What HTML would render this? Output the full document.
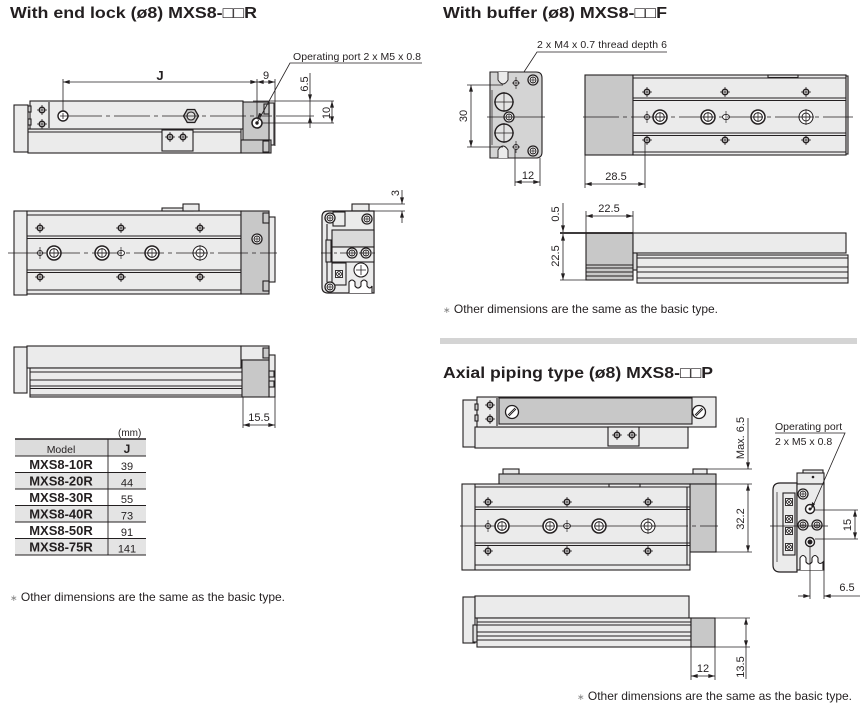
<!DOCTYPE html>
<html><head><meta charset="utf-8"><style>
html,body{margin:0;padding:0;background:#fff;}
svg{display:block;}
text{font-family:"Liberation Sans","DejaVu Sans",Arial,sans-serif;fill:#231f20;}
.t{font-weight:bold;font-size:16px;}
.d{font-size:11px;}
.n{font-size:12px;}
</style></head><body>
<svg width="864" height="708" viewBox="0 0 864 708" xmlns="http://www.w3.org/2000/svg">
<defs>
<marker id="ar" viewBox="0 0 10 6" refX="10" refY="3" markerWidth="7" markerHeight="4" markerUnits="userSpaceOnUse" orient="auto-start-reverse"><path d="M0,0L10,3L0,6z" fill="#231f20"/></marker>
<g id="s" stroke="#231f20"><circle r="2.8" fill="#fff" stroke-width="1.4"/><path d="M-5,0H5M0,-5V5" stroke-width="0.8"/></g>
<g id="h" stroke="#231f20"><circle r="2.5" fill="#fff" stroke-width="0.9"/><path d="M-4,0H4M0,-6V6" stroke-width="0.7"/></g>
<g id="cb" stroke="#231f20"><circle r="7" fill="#fff" stroke-width="1.5"/><circle r="4.3" fill="none" stroke-width="1"/><path d="M-5,0H5M0,-5V5" stroke-width="0.7"/></g>
<g id="ct" stroke="#231f20"><circle r="7" fill="#fff" stroke-width="1"/><circle r="4" fill="none" stroke-width="0.9"/><path d="M-8,0H8M0,-8V8" stroke-width="0.7"/></g>
<g id="ov" stroke="#231f20"><ellipse rx="3.5" ry="2.6" fill="#fff" stroke-width="0.9"/><path d="M0,-6V6" stroke-width="0.7"/></g>
<g id="sm" stroke="#231f20"><circle r="5" fill="#fff" stroke-width="1.3"/><circle r="3" fill="none" stroke-width="0.9"/><path d="M-3,0H3M0,-3V3" stroke-width="0.7"/></g>
<g id="x" stroke="#231f20"><rect x="-3.5" y="-3.5" width="7" height="7" fill="#fff" stroke-width="0.9"/><circle r="2.5" fill="none" stroke-width="0.8"/><path d="M-1.7,-1.7L1.7,1.7M-1.7,1.7L1.7,-1.7" stroke-width="0.7"/></g>
<g id="sl" stroke="#231f20"><circle r="6.5" fill="#fff" stroke-width="1.3"/><path d="M-4,3L3,-4M-3,4L4,-3" stroke-width="0.9"/></g>
<g id="bg" stroke="#231f20"><circle r="9" fill="#e4e4e4" stroke-width="1.4"/><path d="M-10,0H10M0,-10V10" stroke-width="0.7"/></g>
</defs>

<!-- Titles -->
<text class="t" x="10" y="18" textLength="247" lengthAdjust="spacingAndGlyphs">With end lock (ø8) MXS8-□□R</text>
<text class="t" x="443" y="18" textLength="224" lengthAdjust="spacingAndGlyphs">With buffer (ø8) MXS8-□□F</text>
<text class="t" x="443" y="378" textLength="270" lengthAdjust="spacingAndGlyphs">Axial piping type (ø8) MXS8-□□P</text>
<rect x="440" y="338" width="417" height="6" fill="#d4d4d4"/>

<!-- ============ SECTION 1: END LOCK ============ -->
<g stroke="#231f20" stroke-width="1.1">
<rect x="14" y="105" width="14" height="47" fill="#ebebeb"/>
<rect x="28" y="129" width="213" height="24" fill="#ebebeb"/>
<line x1="28" y1="132" x2="241" y2="132"/>
<rect x="30" y="101" width="213" height="28" fill="#ebebeb"/>
<line x1="49" y1="102" x2="49" y2="128"/>
<rect x="28" y="106" width="3" height="6" fill="#ccc"/>
<rect x="28" y="119" width="3" height="6" fill="#ccc"/>
<rect x="269" y="103" width="5" height="42" fill="#ebebeb"/>
<rect x="243" y="102" width="26" height="38" fill="#c8c8c8"/>
<rect x="264" y="104" width="5" height="10" fill="#c8c8c8"/>
<rect x="241" y="140" width="30" height="13" fill="#c8c8c8"/>
<rect x="263" y="141" width="6" height="11" fill="#c8c8c8"/>
<rect x="162" y="130" width="31" height="21" fill="#ebebeb"/>
<polygon points="198.5,116 194.75,122.5 187.25,122.5 183.5,116 187.25,109.5 194.75,109.5" fill="#c8c8c8" stroke-width="1.3"/>
<circle cx="191" cy="116" r="4" fill="#e0e0e0"/>
</g>
<use href="#s" x="42" y="110"/><use href="#s" x="42" y="124"/>
<use href="#s" x="170" y="137"/><use href="#s" x="183" y="137"/>
<g stroke="#231f20"><circle cx="63" cy="116" r="5" fill="#fff" stroke-width="1.4"/><path d="M60,116H66M63,113V119" stroke-width="0.8"/>
<circle cx="257" cy="123" r="5" fill="#fff" stroke-width="1.5"/><circle cx="257" cy="123" r="1.2" fill="#231f20"/></g>
<line x1="66" y1="116" x2="272" y2="116" stroke="#231f20" stroke-width="0.75" stroke-dasharray="36 4 4 4"/>
<g stroke="#231f20" stroke-width="0.8" fill="none">
<line x1="63" y1="79" x2="63" y2="111"/>
<line x1="257" y1="79" x2="257" y2="118"/>
<line x1="275" y1="79" x2="275" y2="146"/>
<line x1="63" y1="82" x2="257" y2="82" marker-start="url(#ar)" marker-end="url(#ar)"/>
<line x1="257" y1="82" x2="275" y2="82" marker-start="url(#ar)" marker-end="url(#ar)"/>
<polyline points="257,123 290,63 422,63"/>
<line x1="253" y1="101" x2="334" y2="101"/>
<line x1="276" y1="116" x2="314" y2="116"/>
<line x1="262" y1="123" x2="334" y2="123"/>
<line x1="310" y1="73" x2="310" y2="101" marker-end="url(#ar)"/>
<line x1="310" y1="128" x2="310" y2="116" marker-end="url(#ar)"/>
<line x1="310" y1="101" x2="310" y2="116"/>
<line x1="332" y1="101" x2="332" y2="123" marker-start="url(#ar)" marker-end="url(#ar)"/>
</g>
<path d="M262,114L257,120L259,113z" fill="#231f20"/>
<text x="160" y="80" text-anchor="middle" style="font-weight:bold;font-size:13px">J</text>
<text class="d" x="266" y="79" text-anchor="middle">9</text>
<text x="293" y="60" style="font-size:10.5px" textLength="128">Operating port 2 x M5 x 0.8</text>
<text class="d" transform="translate(308,84) rotate(-90)" text-anchor="middle">6.5</text>
<text class="d" transform="translate(330,113) rotate(-90)" text-anchor="middle">10</text>

<!-- front view -->
<g stroke="#231f20" stroke-width="1.1">
<rect x="269" y="217" width="6" height="65" fill="#ebebeb"/>
<rect x="14" y="211" width="13" height="84" fill="#ebebeb"/>
<rect x="27" y="211" width="214" height="83" fill="#ebebeb"/>
<line x1="27" y1="215" x2="241" y2="215"/>
<line x1="27" y1="236" x2="241" y2="236"/><line x1="27" y1="238.5" x2="241" y2="238.5"/>
<line x1="27" y1="270" x2="241" y2="270"/><line x1="27" y1="272.5" x2="241" y2="272.5"/>
<line x1="27" y1="290" x2="241" y2="290"/>
<rect x="162" y="208" width="31" height="3" fill="#ebebeb"/>
<rect x="183" y="204" width="16" height="7" fill="#ebebeb"/>
<rect x="241" y="211" width="28" height="83" fill="#c8c8c8"/>
<rect x="263" y="213" width="6" height="10" fill="#c8c8c8"/>
<rect x="263" y="281" width="6" height="10" fill="#c8c8c8"/>
</g>
<use href="#sm" x="257" y="239"/>
<use href="#s" x="40" y="228"/><use href="#s" x="121" y="228"/><use href="#s" x="200" y="228"/>
<use href="#s" x="40" y="277"/><use href="#s" x="121" y="277"/><use href="#s" x="200" y="277"/>
<use href="#h" x="40" y="253"/><use href="#cb" x="54" y="253"/><use href="#cb" x="102" y="253"/>
<use href="#ov" x="121" y="253"/><use href="#cb" x="152" y="253"/><use href="#ct" x="200" y="253"/>
<line x1="8" y1="253" x2="277" y2="253" stroke="#231f20" stroke-width="0.75" stroke-dasharray="30 4 4 4"/>

<!-- side view -->
<g stroke="#231f20" stroke-width="1.1">
<rect x="352" y="204" width="17" height="7" fill="#ebebeb"/>
<path d="M328,211H374V293H328Q322,293 322,287V217Q322,211 328,211z" fill="#ebebeb" stroke-width="1.2"/>
<path d="M327,224V282" fill="none"/>
<rect x="326" y="240" width="5" height="22" fill="#ddd"/>
<rect x="333" y="212" width="12" height="14" fill="#ebebeb"/>
<rect x="332" y="230" width="42" height="17" fill="#dadada"/>
<rect x="332" y="247" width="42" height="15" fill="#ebebeb"/>
<rect x="332" y="263" width="14" height="22" fill="#ebebeb"/>
<path d="M349,293V282Q352,278 355,282V286Q358,290 361,286V282Q364,278 367,282V286Q370,290 372,286V293" fill="#fff"/>
</g>
<use href="#sm" x="330" y="218"/><use href="#sm" x="367" y="219"/><use href="#sm" x="330" y="287"/>
<use href="#sm" x="352" y="253"/><use href="#sm" x="366" y="253"/>
<g stroke="#231f20"><circle cx="361" cy="270" r="7" fill="#fff" stroke-width="1.1"/><path d="M356,270H366M361,265V275" stroke-width="0.8"/></g>
<use href="#x" x="339" y="274"/>
<line x1="321" y1="253" x2="376" y2="253" stroke="#231f20" stroke-width="0.75" stroke-dasharray="10 3 3 3"/>
<g stroke="#231f20" stroke-width="0.8">
<line x1="369" y1="204" x2="405" y2="204"/><line x1="369" y1="211" x2="405" y2="211"/>
<line x1="402" y1="190" x2="402" y2="204" marker-end="url(#ar)"/>
<line x1="402" y1="223" x2="402" y2="211" marker-end="url(#ar)"/>
</g>
<text class="d" transform="translate(399,193) rotate(-90)" text-anchor="middle">3</text>

<!-- bottom side view -->
<g stroke="#231f20" stroke-width="1.1">
<rect x="269" y="355" width="6" height="42" fill="#ebebeb"/>
<rect x="14" y="347" width="13" height="46" fill="#ebebeb"/>
<rect x="27" y="346" width="214" height="22" fill="#ebebeb"/>
<rect x="30" y="368" width="213" height="29" fill="#ebebeb"/>
<line x1="30" y1="372" x2="243" y2="372"/><line x1="30" y1="380" x2="243" y2="380"/>
<line x1="30" y1="386" x2="243" y2="386"/><line x1="30" y1="388.5" x2="243" y2="388.5"/>
<line x1="30" y1="395" x2="243" y2="395"/>
<rect x="241" y="346" width="28" height="14" fill="#ebebeb"/>
<rect x="242" y="360" width="27" height="37" fill="#c8c8c8"/>
<rect x="263" y="348" width="6" height="10" fill="#c8c8c8"/>
<rect x="269" y="371" width="5" height="6" fill="#ddd"/>
<rect x="269" y="381" width="5" height="6" fill="#ddd"/>
</g>
<g stroke="#231f20" stroke-width="0.8">
<line x1="243" y1="397" x2="243" y2="428"/><line x1="275" y1="397" x2="275" y2="428"/>
<line x1="243" y1="425" x2="275" y2="425" marker-start="url(#ar)" marker-end="url(#ar)"/>
</g>
<text class="d" x="259" y="421" text-anchor="middle">15.5</text>

<!-- table -->
<text x="118" y="436" style="font-size:10px">(mm)</text>
<rect x="15" y="439" width="131" height="17" fill="#dcdcdc"/>
<rect x="15" y="472.5" width="131" height="16.5" fill="#e4e4e4"/>
<rect x="15" y="505.5" width="131" height="16.5" fill="#e4e4e4"/>
<rect x="15" y="538.5" width="131" height="16.5" fill="#e4e4e4"/>
<g stroke="#231f20" stroke-width="0.9">
<line x1="15" y1="439" x2="146" y2="439" stroke-width="1.5"/>
<line x1="15" y1="456" x2="146" y2="456"/>
<line x1="15" y1="472.5" x2="146" y2="472.5"/>
<line x1="15" y1="489" x2="146" y2="489"/>
<line x1="15" y1="505.5" x2="146" y2="505.5"/>
<line x1="15" y1="522" x2="146" y2="522"/>
<line x1="15" y1="538.5" x2="146" y2="538.5"/>
<line x1="15" y1="555" x2="146" y2="555"/>
<line x1="108" y1="439" x2="108" y2="555"/>
</g>
<text x="61" y="453" text-anchor="middle" style="font-size:10.5px">Model</text>
<text x="127" y="453" text-anchor="middle" style="font-size:12px;font-weight:bold">J</text>
<g style="font-size:13px;font-weight:bold" text-anchor="middle">
<text x="61" y="469">MXS8-10R</text>
<text x="61" y="485.5">MXS8-20R</text>
<text x="61" y="502">MXS8-30R</text>
<text x="61" y="518.5">MXS8-40R</text>
<text x="61" y="535">MXS8-50R</text>
<text x="61" y="551.5">MXS8-75R</text>
</g>
<g class="d" text-anchor="middle" style="font-size:11px">
<text x="127" y="470">39</text>
<text x="127" y="486.5">44</text>
<text x="127" y="503">55</text>
<text x="127" y="519.5">73</text>
<text x="127" y="536">91</text>
<text x="127" y="552.5">141</text>
</g>
<text class="n" x="10" y="601"><tspan style="font-size:9px;fill:#888">∗</tspan> Other dimensions are the same as the basic type.</text>

<!-- ============ SECTION 2: BUFFER ============ -->
<g stroke="#231f20" stroke-width="0.8" fill="none">
<polyline points="667,52 537,52 520,78"/>
</g>
<path d="M518,81L520,73L523,75z" fill="#231f20"/>
<text x="537" y="48" style="font-size:10.5px" textLength="130">2 x M4 x 0.7 thread depth 6</text>
<g stroke="#231f20" stroke-width="1.1">
<path d="M490,72H536Q542,72 542,78V152Q542,158 536,158H490z" fill="#d4d4d4"/>
<path d="M498,72V80Q503,88 508,80V72" fill="#ebebeb" stroke-width="0.9"/>
<path d="M498,158V150Q503,142 508,150V158" fill="#ebebeb" stroke-width="0.9"/>
<line x1="492" y1="90" x2="492" y2="145" stroke-width="0.7"/>
</g>
<use href="#bg" x="504" y="102"/><use href="#bg" x="504" y="133"/>
<use href="#sm" x="509" y="117"/>
<use href="#sm" x="533" y="80"/><use href="#sm" x="533" y="151"/>
<use href="#h" x="516" y="83"/><use href="#h" x="516" y="147"/>
<line x1="487" y1="117" x2="545" y2="117" stroke="#231f20" stroke-width="0.75"/>
<g stroke="#231f20" stroke-width="0.8">
<line x1="467" y1="85" x2="503" y2="85"/><line x1="467" y1="147" x2="503" y2="147"/>
<line x1="471" y1="85" x2="471" y2="147" marker-start="url(#ar)" marker-end="url(#ar)"/>
<line x1="515" y1="150" x2="515" y2="186"/><line x1="540" y1="158" x2="540" y2="186"/>
<line x1="515" y1="182" x2="540" y2="182" marker-start="url(#ar)" marker-end="url(#ar)"/>
</g>
<text class="d" transform="translate(467,116) rotate(-90)" text-anchor="middle">30</text>
<text class="d" x="528" y="179" text-anchor="middle">12</text>
<g stroke="#231f20" stroke-width="1.1">
<rect x="585" y="75" width="48" height="80" fill="#c8c8c8"/>
<rect x="633" y="75" width="213" height="80" fill="#ebebeb"/>
<rect x="846" y="76" width="2" height="78" fill="#ebebeb"/>
<line x1="633" y1="78" x2="846" y2="78"/>
<line x1="633" y1="98" x2="846" y2="98"/><line x1="633" y1="100.5" x2="846" y2="100.5"/>
<line x1="633" y1="133" x2="846" y2="133"/><line x1="633" y1="135.5" x2="846" y2="135.5"/>
<line x1="633" y1="152" x2="846" y2="152"/>
<rect x="768" y="75" width="30" height="2.5" fill="#ebebeb"/>
</g>
<use href="#s" x="647" y="92"/><use href="#s" x="725" y="92"/><use href="#s" x="806" y="92"/>
<use href="#s" x="647" y="140"/><use href="#s" x="725" y="140"/><use href="#s" x="806" y="140"/>
<use href="#h" x="647" y="117"/><use href="#cb" x="660" y="117"/><use href="#cb" x="708" y="117"/>
<use href="#ov" x="726" y="117"/><use href="#cb" x="758" y="117"/><use href="#ct" x="806" y="117"/>
<line x1="583" y1="117" x2="853" y2="117" stroke="#231f20" stroke-width="0.75" stroke-dasharray="36 4 4 4"/>
<g stroke="#231f20" stroke-width="0.8">
<line x1="585" y1="155" x2="585" y2="188"/><line x1="645" y1="143" x2="645" y2="188"/>
<line x1="585" y1="184" x2="645" y2="184" marker-start="url(#ar)" marker-end="url(#ar)"/>
</g>
<text class="d" x="616" y="180" text-anchor="middle">28.5</text>
<g stroke="#231f20" stroke-width="1.1">
<rect x="586" y="233" width="47" height="47" fill="#c8c8c8"/>
<line x1="586" y1="265" x2="633" y2="265"/><line x1="586" y1="268" x2="633" y2="268"/>
<line x1="586" y1="272" x2="633" y2="272"/><line x1="586" y1="276" x2="633" y2="276"/>
<rect x="633" y="233" width="213" height="20" fill="#ebebeb"/>
<rect x="633" y="253" width="4" height="17" fill="#ddd"/>
<rect x="637" y="255" width="211" height="28" fill="#ebebeb"/>
<line x1="637" y1="258" x2="848" y2="258"/><line x1="637" y1="267" x2="848" y2="267"/>
<line x1="637" y1="272" x2="848" y2="272"/><line x1="637" y1="278" x2="848" y2="278"/>
<line x1="560" y1="233" x2="633" y2="233" stroke-width="1.7"/>
</g>
<g stroke="#231f20" stroke-width="0.8">
<line x1="560" y1="280" x2="586" y2="280"/>
<line x1="586" y1="211" x2="586" y2="233"/><line x1="633" y1="211" x2="633" y2="233"/>
<line x1="586" y1="216" x2="633" y2="216" marker-start="url(#ar)" marker-end="url(#ar)"/>
<line x1="563" y1="203" x2="563" y2="232" marker-end="url(#ar)"/>
<line x1="563" y1="234" x2="563" y2="280" marker-start="url(#ar)" marker-end="url(#ar)"/>
</g>
<text class="d" x="609" y="212" text-anchor="middle">22.5</text>
<text class="d" transform="translate(559,214) rotate(-90)" text-anchor="middle">0.5</text>
<text class="d" transform="translate(559,256) rotate(-90)" text-anchor="middle">22.5</text>
<text class="n" x="443" y="313"><tspan style="font-size:9px;fill:#888">∗</tspan> Other dimensions are the same as the basic type.</text>

<!-- ============ SECTION 3: AXIAL ============ -->
<g stroke="#231f20" stroke-width="1.1">
<rect x="463" y="400" width="14" height="47" fill="#ebebeb"/>
<rect x="475" y="427" width="213" height="21" fill="#ebebeb"/>
<rect x="477" y="397" width="239" height="30" fill="#ebebeb"/>
<line x1="497" y1="398" x2="497" y2="426"/>
<rect x="499" y="398" width="193" height="26" fill="#c8c8c8"/>
<rect x="475" y="404" width="3" height="6" fill="#ccc"/>
<rect x="475" y="415" width="3" height="6" fill="#ccc"/>
<rect x="608" y="427" width="31" height="19" fill="#ebebeb"/>
</g>
<use href="#s" x="490" y="405"/><use href="#s" x="490" y="419"/>
<use href="#s" x="617" y="435"/><use href="#s" x="632" y="435"/>
<use href="#sl" x="512" y="412"/><use href="#sl" x="699" y="412"/>
<g stroke="#231f20" stroke-width="1.1">
<rect x="503" y="469" width="16" height="5" fill="#ebebeb"/>
<rect x="693" y="469" width="14" height="5" fill="#ebebeb"/>
<rect x="499" y="474" width="217" height="10" fill="#c8c8c8"/>
<rect x="690" y="484" width="26" height="68" fill="#c8c8c8"/>
<rect x="462" y="484" width="228" height="86" fill="#ebebeb"/>
<line x1="475" y1="484" x2="475" y2="570"/>
<line x1="475" y1="487" x2="690" y2="487"/>
<line x1="475" y1="507" x2="690" y2="507"/><line x1="475" y1="509.5" x2="690" y2="509.5"/>
<line x1="475" y1="543" x2="690" y2="543"/><line x1="475" y1="545.5" x2="690" y2="545.5"/>
<line x1="475" y1="565" x2="690" y2="565"/>
<rect x="609" y="484" width="31" height="3" fill="#ebebeb"/>
<line x1="687" y1="487" x2="687" y2="565"/>
</g>
<use href="#s" x="488" y="502"/><use href="#s" x="567" y="502"/><use href="#s" x="648" y="502"/>
<use href="#s" x="488" y="551"/><use href="#s" x="567" y="551"/><use href="#s" x="648" y="551"/>
<use href="#h" x="488" y="526"/><use href="#cb" x="502" y="526"/><use href="#cb" x="550" y="526"/>
<use href="#ov" x="567" y="526"/><use href="#cb" x="599" y="526"/><use href="#ct" x="648" y="526"/>
<line x1="460" y1="526" x2="718" y2="526" stroke="#231f20" stroke-width="0.75" stroke-dasharray="36 4 4 4"/>
<g stroke="#231f20" stroke-width="0.8">
<line x1="707" y1="469" x2="752" y2="469"/><line x1="716" y1="484" x2="752" y2="484"/>
<line x1="716" y1="552" x2="752" y2="552"/>
<line x1="748" y1="418" x2="748" y2="469" marker-end="url(#ar)"/>
<line x1="748" y1="484" x2="748" y2="552" marker-start="url(#ar)" marker-end="url(#ar)"/>
</g>
<text class="d" transform="translate(744,438) rotate(-90)" text-anchor="middle">Max. 6.5</text>
<text class="d" transform="translate(744,519) rotate(-90)" text-anchor="middle">32.2</text>
<g stroke="#231f20" stroke-width="1.1">
<rect x="803" y="470" width="20" height="4" fill="#ebebeb"/>
<rect x="797" y="473" width="27" height="11" fill="#ebebeb"/>
<path d="M780,483H797V572H780Q773,572 773,565V490Q773,483 780,483z" fill="#ebebeb" stroke-width="1.2"/>
<line x1="777" y1="492" x2="777" y2="562" stroke-width="0.7"/>
<rect x="783" y="493" width="12" height="62" fill="#ebebeb"/>
<rect x="797" y="484" width="27" height="86" fill="#ebebeb"/>
<path d="M800,570V558Q803,553 806,558V562Q809,566 812,562V558Q815,553 818,558V562Q820,565 823,562V570" fill="#fff"/>
</g>
<circle cx="813" cy="477" r="1.3" fill="#231f20"/>
<use href="#x" x="789" y="502"/><use href="#x" x="789" y="519"/><use href="#x" x="789" y="531"/><use href="#x" x="789" y="547"/>
<use href="#sm" x="803" y="494"/><use href="#sm" x="803" y="525"/><use href="#sm" x="817" y="525"/>
<g stroke="#231f20"><circle cx="810" cy="509" r="4.5" fill="#fff" stroke-width="1.4"/><circle cx="810" cy="509" r="1" fill="#231f20"/>
<circle cx="810" cy="542" r="4.5" fill="#fff" stroke-width="1.4"/><circle cx="810" cy="542" r="2" fill="#231f20"/></g>
<line x1="770" y1="526" x2="828" y2="526" stroke="#231f20" stroke-width="0.75"/>
<g stroke="#231f20" stroke-width="0.8" fill="none">
<polyline points="775,433 845,433 813,506"/>
<line x1="815" y1="510" x2="858" y2="510"/><line x1="815" y1="539" x2="858" y2="539"/>
<line x1="855" y1="510" x2="855" y2="539" marker-start="url(#ar)" marker-end="url(#ar)"/>
<line x1="810" y1="547" x2="810" y2="599"/><line x1="824" y1="560" x2="824" y2="599"/>
<line x1="798" y1="596" x2="810" y2="596" marker-end="url(#ar)"/>
<line x1="860" y1="596" x2="824" y2="596" marker-end="url(#ar)"/>
</g>
<path d="M811,510L812,502L815,504z" fill="#231f20"/>
<text x="775" y="430" style="font-size:10.5px">Operating port</text>
<text x="775" y="445" style="font-size:10.5px">2 x M5 x 0.8</text>
<text class="d" transform="translate(851,525) rotate(-90)" text-anchor="middle">15</text>
<text class="d" x="847" y="591" text-anchor="middle">6.5</text>
<g stroke="#231f20" stroke-width="1.1">
<rect x="463" y="597" width="12" height="46" fill="#ebebeb"/>
<rect x="475" y="596" width="214" height="22" fill="#ebebeb"/>
<rect x="473" y="625" width="4" height="17" fill="#ddd"/>
<rect x="477" y="618" width="214" height="29" fill="#ebebeb"/>
<line x1="477" y1="622" x2="691" y2="622"/><line x1="477" y1="625" x2="691" y2="625"/>
<line x1="477" y1="632" x2="691" y2="632"/><line x1="477" y1="636" x2="691" y2="636"/>
<line x1="477" y1="640" x2="691" y2="640"/>
<rect x="691" y="618" width="24" height="29" fill="#c8c8c8"/>
</g>
<g stroke="#231f20" stroke-width="0.8">
<line x1="715" y1="618" x2="750" y2="618"/><line x1="691" y1="647" x2="750" y2="647"/>
<line x1="746" y1="618" x2="746" y2="647" marker-start="url(#ar)" marker-end="url(#ar)"/>
<line x1="746" y1="647" x2="746" y2="679"/>
<line x1="691" y1="647" x2="691" y2="680"/><line x1="715" y1="647" x2="715" y2="680"/>
<line x1="691" y1="676" x2="715" y2="676" marker-start="url(#ar)" marker-end="url(#ar)"/>
</g>
<text class="d" x="703" y="672" text-anchor="middle">12</text>
<text class="d" transform="translate(744,667) rotate(-90)" text-anchor="middle">13.5</text>
<text class="n" x="577" y="700"><tspan style="font-size:9px;fill:#888">∗</tspan> Other dimensions are the same as the basic type.</text>
</svg>
</body></html>
